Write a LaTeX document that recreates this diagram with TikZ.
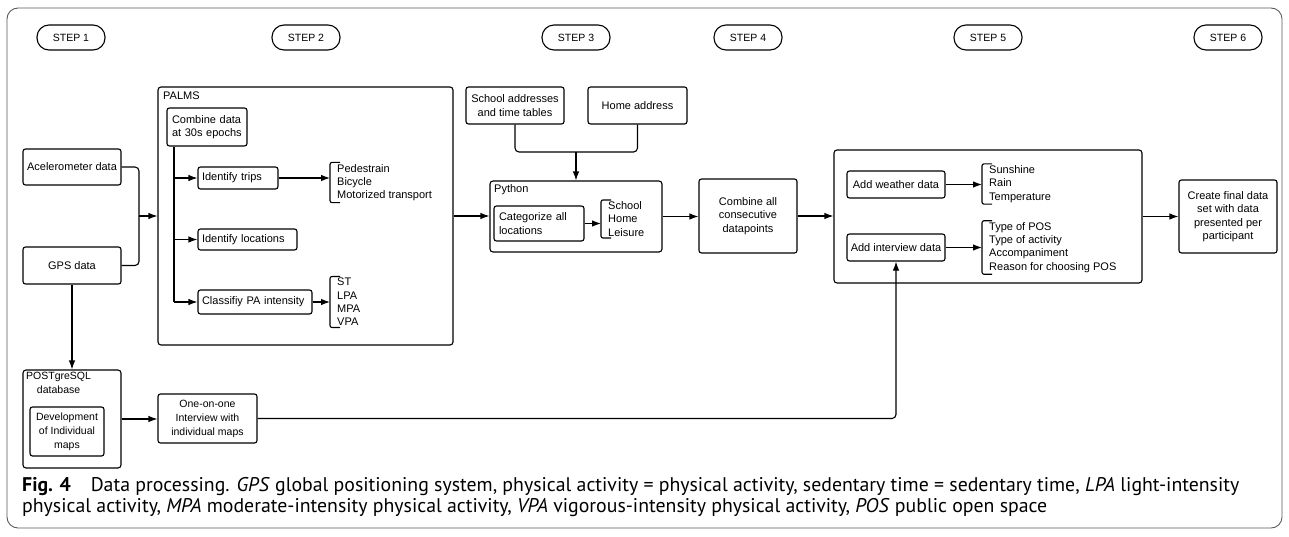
\documentclass[tikz,border=0pt]{standalone}
\usepackage{fontspec}
\setmainfont{Liberation Sans}
\newfontfamily\capfont{PT Sans}
\usetikzlibrary{arrows.meta, positioning, calc}

\begin{document}
\begin{tikzpicture}[
    x=1pt, y=-1pt,
    every node/.style={font=\fontsize{11}{13.3}\selectfont},
    box/.style={draw, rounded corners=2.5pt, line width=1.1pt, align=center, inner sep=3pt},
    leftbox/.style={box, align=left},
    stepbox/.style={draw, rounded corners=12pt, line width=1.1pt, minimum width=68pt, minimum height=25pt, font=\fontsize{10.5}{12}\selectfont},
    group/.style={draw, rounded corners=3pt, line width=1.1pt, inner sep=0pt},
    items/.style={anchor=west, align=left, inner xsep=7pt, inner ysep=1.5pt},
    brack/.style={line width=1.1pt, rounded corners=2pt},
    arr/.style={-{Latex[length=9pt, width=6.5pt]}, line width=1.1pt, rounded corners=4pt},
    link/.style={line width=1.1pt, rounded corners=4pt}
]
\useasboundingbox (0,0) rectangle (1289,536);

% Outer frame
\draw[black!65, line width=0.9pt, rounded corners=11pt] (7,8) rectangle (1282,528);

% Step headers
\node[stepbox] (s1) at (71,37.5) {STEP 1};
\node[stepbox] (s2) at (306,37.5) {STEP 2};
\node[stepbox] (s3) at (576,37.5) {STEP 3};
\node[stepbox] (s4) at (748,37.5) {STEP 4};
\node[stepbox] (s5) at (988,37.5) {STEP 5};
\node[stepbox] (s6) at (1228,37.5) {STEP 6};

% Step 1 - raw data
\node[box, minimum width=98pt, minimum height=36pt] (acc) at (72,167) {Acelerometer data};
\node[box, minimum width=98pt, minimum height=37pt] (gps) at (72,265.5) {GPS data};
\coordinate (merge) at (139,216);

% Step 2 - PALMS
\node[group, minimum width=295pt, minimum height=258pt] (palms) at (305.5,216) {};
\node[anchor=west, inner sep=0pt] (palmslabel) at (163,96) {PALMS};
\node[leftbox, minimum width=80pt, minimum height=38pt, text width=70pt] (epochs) at (207,127) {Combine data\\at 30s epochs};
\node[leftbox, minimum width=80pt, minimum height=22pt, text width=72pt] (trips) at (238,178) {Identify trips};
\node[leftbox, minimum width=99pt, minimum height=21pt, text width=91pt] (locs) at (247.5,239.5) {Identify locations};
\node[leftbox, minimum width=114pt, minimum height=24pt, text width=106pt] (pa) at (255,302) {Classifiy PA intensity};
\node[items] (modes) at (330,182.5) {Pedestrain\\Bicycle\\Motorized transport};
\node[items] (levels) at (330,302) {ST\\LPA\\MPA\\VPA};
\coordinate (spine) at ([xshift=-33pt]epochs.south);

% Step 3 - Python
\node[box, minimum width=98pt, minimum height=37pt] (school) at (515,105.5) {School addresses\\and time tables};
\node[box, minimum width=99pt, minimum height=37pt] (home) at (637.5,105.5) {Home address};
\coordinate (join) at (576,152);
\node[group, minimum width=172pt, minimum height=71pt] (python) at (576,216.5) {};
\node[anchor=west, inner sep=0pt] (pylabel) at (494,190) {Python};
\node[leftbox, minimum width=90pt, minimum height=35pt, text width=80pt] (categ) at (539,223.5) {Categorize all\\locations};
\node[items] (places) at (601,219) {School\\Home\\Leisure};

% Step 4
\node[box, minimum width=98pt, minimum height=74pt] (consec) at (748,216) {Combine all\\consecutive\\datapoints};

% Step 5
\node[group, minimum width=308pt, minimum height=133pt] (enrich) at (988,216.5) {};
\node[box, minimum width=98pt, minimum height=27pt] (weather) at (896,184.5) {Add weather data};
\node[box, minimum width=98pt, minimum height=27pt] (interview) at (896,247.5) {Add interview data};
\node[items] (wlist) at (982,184) {Sunshine\\Rain\\Temperature};
\node[items] (ilist) at (982,247.5) {Type of POS\\Type of activity\\Accompaniment\\Reason for choosing POS};

% Step 6
\node[box, minimum width=98pt, minimum height=73pt] (final) at (1228,216.5) {Create final data\\set with data\\presented per\\participant};

% Bottom row - maps
\node[group, minimum width=98pt, minimum height=98pt] (postgres) at (72,419) {};
\node[anchor=north west, align=center, inner sep=0pt, font=\fontsize{10.5}{14}\selectfont] (pglabel) at (26,372) {POSTgreSQL\\database};
\node[box, minimum width=74pt, minimum height=49pt, font=\fontsize{10.5}{14}\selectfont] (devmaps) at (67,431.5) {Development\\of Individual\\maps};
\node[box, minimum width=99pt, minimum height=49pt, font=\fontsize{10.5}{14}\selectfont] (oneone) at (207.5,418.5) {One-on-one\\Interview with\\individual maps};

% Brackets
\foreach \lst in {modes, levels, places, wlist, ilist}
  \draw[brack] ([xshift=10pt]\lst.north west) -- (\lst.north west) -- (\lst.south west) -- ([xshift=10pt]\lst.south west);

% Arrows
\draw[link] (acc.east) -| (merge);
\draw[link] (gps.east) -| (merge);
\draw[arr] (merge) -- (merge -| palms.west);
\draw[link] (epochs.south -| spine) -- (spine |- pa);
\draw[arr] (spine |- trips) -- (trips.west);
\draw[arr] (spine |- locs) -- (locs.west);
\draw[arr] (spine |- pa) -- (pa.west);
\draw[arr] (trips.east) -- (trips -| modes.west);
\draw[arr] (pa.east) -- (pa -| levels.west);
\draw[arr] (palms.east) -- (palms.east -| python.west);
\draw[link] (school.south) |- (join) -| (home.south);
\draw[arr] (join) -- (python.north);
\draw[arr] (categ.east) -- (categ -| places.west);
\draw[arr] (python.east) -- (python.east -| consec.west);
\draw[arr] (consec.east) -- (consec.east -| enrich.west);
\draw[arr] (weather.east) -- (weather -| wlist.west);
\draw[arr] (interview.east) -- (interview -| ilist.west);
\draw[arr] (enrich.east) -- (enrich.east -| final.west);
\draw[arr] (gps.south) -- (postgres.north);
\draw[arr] (postgres.east) -- (postgres.east -| oneone.west);
\draw[arr] (oneone.east) -| (interview.south);

% Caption
\node[anchor=west, align=left, inner sep=0pt, font=\capfont\fontsize{19.8}{21}\selectfont] (caption) at (22,497.5)
  {\textbf{Fig. 4}\quad Data processing. \textit{GPS} global positioning system, physical activity = physical activity, sedentary time = sedentary time, \textit{LPA} light-intensity\\
   physical activity, \textit{MPA} moderate-intensity physical activity, \textit{VPA} vigorous-intensity physical activity, \textit{POS} public open space};

\end{tikzpicture}
\end{document}
